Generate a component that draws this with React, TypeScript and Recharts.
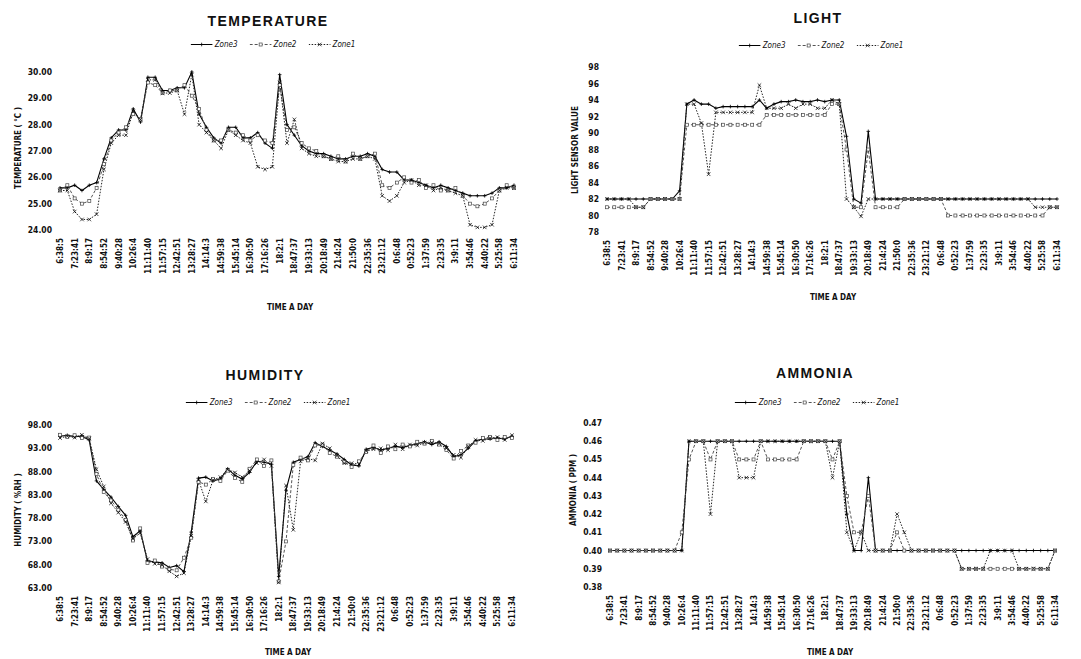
import React from 'react';
import { LineChart, Line, XAxis, YAxis } from 'recharts';

// sample times (every other one is shown on the axis)
const times = [
  '6:38:5', '7:0:53', '7:23:41', '7:46:29', '8:9:17', '8:32:5', '8:54:52', '9:17:40', '9:40:28', '10:3:16',
  '10:26:4', '10:48:52', '11:11:40', '11:34:28', '11:57:15', '12:20:3', '12:42:51', '13:5:39', '13:28:27', '13:51:15',
  '14:14:3', '14:36:51', '14:59:38', '15:22:26', '15:45:14', '16:8:2', '16:30:50', '16:53:38', '17:16:26', '17:39:14',
  '18:2:1', '18:24:49', '18:47:37', '19:10:25', '19:33:13', '19:56:1', '20:18:49', '20:41:37', '21:4:24', '21:27:12',
  '21:50:0', '22:12:48', '22:35:36', '22:58:24', '23:21:12', '23:44:0', '0:6:48', '0:29:36', '0:52:23', '1:15:11',
  '1:37:59', '2:0:47', '2:23:35', '2:46:23', '3:9:11', '3:31:59', '3:54:46', '4:17:34', '4:40:22', '5:3:10',
  '5:25:58', '5:48:46', '6:11:34',
];

const tempZone3 = [
  25.6, 25.6, 25.7, 25.5, 25.7, 25.8, 26.7, 27.5, 27.8, 27.8,
  28.6, 28.1, 29.8, 29.8, 29.3, 29.3, 29.4, 29.4, 30.0, 28.4,
  27.9, 27.5, 27.3, 27.9, 27.9, 27.5, 27.5, 27.7, 27.3, 27.1,
  29.9, 28.0, 27.6, 27.2, 27.0, 26.9, 26.9, 26.8, 26.7, 26.7,
  26.8, 26.8, 26.9, 26.8, 26.3, 26.2, 26.2, 25.9, 25.9, 25.8,
  25.7, 25.6, 25.7, 25.6, 25.5, 25.4, 25.3, 25.3, 25.3, 25.4,
  25.6, 25.6, 25.7,
];
const tempZone2 = [
  25.5, 25.7, 25.2, 25.0, 25.1, 25.6, 26.5, 27.4, 27.7, 27.9,
  28.4, 28.2, 29.6, 29.5, 29.2, 29.3, 29.3, 29.5, 29.1, 28.6,
  27.8, 27.4, 27.4, 27.8, 27.7, 27.6, 27.4, 27.6, 27.4, 27.3,
  29.5, 27.8, 27.9, 27.3, 27.1, 27.0, 26.8, 26.7, 26.8, 26.6,
  26.9, 26.7, 26.8, 26.9, 25.7, 25.6, 25.8, 26.0, 25.8, 25.9,
  25.6, 25.7, 25.5, 25.5, 25.6, 25.3, 25.0, 24.9, 25.0, 25.2,
  25.5, 25.7, 25.6,
];
const tempZone1 = [
  25.5, 25.5, 24.7, 24.4, 24.4, 24.6, 26.3, 27.3, 27.6, 27.6,
  28.5, 28.2, 29.7, 29.7, 29.2, 29.2, 29.3, 28.4, 29.9, 28.0,
  27.7, 27.4, 27.1, 27.8, 27.6, 27.4, 27.3, 26.4, 26.3, 26.4,
  29.6, 27.3, 28.2, 27.1, 26.9, 26.8, 26.8, 26.7, 26.6, 26.6,
  26.7, 26.7, 26.8, 26.7, 25.3, 25.1, 25.3, 25.8, 25.9, 25.7,
  25.7, 25.5, 25.6, 25.5, 25.4, 25.3, 24.2, 24.1, 24.1, 24.2,
  25.5, 25.6, 25.6,
];

const lightZone3 = [
  82, 82, 82, 82, 82, 82, 82, 82, 82, 82,
  83, 93.5, 94, 93.5, 93.5, 93, 93.2, 93.2, 93.2, 93.2,
  93.2, 94, 93, 93.5, 93.8, 93.8, 94, 93.8, 93.8, 94,
  93.8, 94, 94, 89.6, 82, 81.5, 90.2, 82, 82, 82,
  82, 82, 82, 82, 82, 82, 82, 82, 82, 82,
  82, 82, 82, 82, 82, 82, 82, 82, 82, 82,
  82, 82, 82,
];
const lightZone2 = [
  81, 81, 81, 81, 81, 81, 82, 82, 82, 82,
  82, 91, 91, 91, 91, 91, 91, 91, 91, 91,
  91, 91, 92.2, 92.2, 92.2, 92.2, 92.2, 92.2, 92.2, 92.2,
  92.2, 93.5, 93.5, 88, 81, 81, 88, 81, 81, 81,
  81, 82, 82, 82, 82, 82, 82, 80, 80, 80,
  80, 80, 80, 80, 80, 80, 80, 80, 80, 80,
  80, 81, 81,
];
const lightZone1 = [
  82, 82, 82, 82, 81, 81, 82, 82, 82, 82,
  82, 93.5, 93.5, 91.2, 85, 92.5, 92.5, 92.5, 92.5, 92.5,
  92.5, 95.8, 93, 93, 93, 93.5, 93, 93.5, 93.5, 93,
  93, 94, 93.5, 82, 81, 79.9, 82, 82, 82, 82,
  82, 82, 82, 82, 82, 82, 82, 82, 82, 82,
  82, 82, 82, 82, 82, 82, 82, 82, 82, 81,
  81, 81, 81,
];

const humZone3 = [
  95.6, 95.8, 95.5, 95.6, 94.8, 86, 84.2, 82.5, 80.5, 78.6,
  74, 75.3, 68.8, 68.6, 68.4, 67.4, 67.8, 66.5, 75, 86.6,
  86.8, 86, 86.4, 88.6, 87.2, 86.4, 87.8, 90.2, 90, 89.6,
  65.5, 84, 90, 90.6, 91.2, 94.2, 93.4, 92.6, 91.8, 90.6,
  89.4, 89.2, 92.8, 93.2, 92.6, 93, 93.4, 93.2, 93.6, 94,
  94.4, 93.8, 94.4, 93.4, 91.2, 91.6, 93, 94.6, 95, 95,
  95.2, 95, 95.6,
];
const humZone2 = [
  95.9, 95.4, 95.8, 95.2, 95.3, 87.5, 83.6, 81.8, 79.8, 77.6,
  73.2, 75.8, 68.4, 68.9, 67.6, 67, 66.8, 69.5, 73.8, 85.8,
  85.2, 86.4, 86, 88.2, 86.6, 85.8, 88.6, 90.6, 89.2, 90.4,
  64.4, 73, 89.4, 91, 90.4, 93.6, 93.8, 92, 91.2, 90,
  89, 90.2, 92.2, 93.6, 92, 93.4, 92.8, 93.8, 93.4, 94.4,
  94, 94.6, 93.8, 92.6, 90.8, 92.4, 93.6, 94.2, 95.2, 95.4,
  94.8, 95.4, 95.2,
];
const humZone1 = [
  95.2, 95.6, 95.3, 95.9, 95.1, 88.5, 84.8, 81.2, 79.2, 77.2,
  73.6, 74.8, 69.2, 68.2, 67.9, 66.6, 65.5, 66.2, 74.2, 86.2,
  81.6, 86.2, 86.8, 88.4, 87.8, 86.8, 88.2, 89.8, 90.6, 89.2,
  64.2, 85, 75.5, 90.2, 90.8, 90.4, 94, 93, 91.4, 89.8,
  89.8, 89.6, 92.4, 92.8, 93, 92.6, 93.8, 92.8, 93.8, 93.6,
  94.2, 94.2, 94, 93, 91.6, 91, 93.4, 94.8, 94.6, 95.2,
  95.4, 94.8, 95.8,
];

const nh3Zone3 = [
  0.40, 0.40, 0.40, 0.40, 0.40, 0.40, 0.40, 0.40, 0.40, 0.40,
  0.40, 0.46, 0.46, 0.46, 0.46, 0.46, 0.46, 0.46, 0.46, 0.46,
  0.46, 0.46, 0.46, 0.46, 0.46, 0.46, 0.46, 0.46, 0.46, 0.46,
  0.46, 0.46, 0.46, 0.42, 0.40, 0.40, 0.44, 0.40, 0.40, 0.40,
  0.40, 0.40, 0.40, 0.40, 0.40, 0.40, 0.40, 0.40, 0.40, 0.40,
  0.40, 0.40, 0.40, 0.40, 0.40, 0.40, 0.40, 0.40, 0.40, 0.40,
  0.40, 0.40, 0.40,
];
const nh3Zone2 = [
  0.40, 0.40, 0.40, 0.40, 0.40, 0.40, 0.40, 0.40, 0.40, 0.40,
  0.41, 0.45, 0.46, 0.46, 0.45, 0.46, 0.46, 0.46, 0.45, 0.45,
  0.45, 0.46, 0.45, 0.45, 0.45, 0.45, 0.45, 0.46, 0.46, 0.46,
  0.46, 0.45, 0.46, 0.43, 0.41, 0.41, 0.43, 0.40, 0.40, 0.40,
  0.41, 0.40, 0.40, 0.40, 0.40, 0.40, 0.40, 0.40, 0.40, 0.39,
  0.39, 0.39, 0.39, 0.39, 0.39, 0.39, 0.39, 0.39, 0.39, 0.39,
  0.39, 0.39, 0.40,
];
const nh3Zone1 = [
  0.40, 0.40, 0.40, 0.40, 0.40, 0.40, 0.40, 0.40, 0.40, 0.40,
  0.40, 0.46, 0.46, 0.46, 0.42, 0.46, 0.46, 0.46, 0.44, 0.44,
  0.44, 0.46, 0.46, 0.46, 0.46, 0.46, 0.46, 0.46, 0.46, 0.46,
  0.46, 0.44, 0.46, 0.41, 0.40, 0.41, 0.40, 0.40, 0.40, 0.40,
  0.42, 0.41, 0.40, 0.40, 0.40, 0.40, 0.40, 0.40, 0.40, 0.39,
  0.39, 0.39, 0.39, 0.40, 0.40, 0.40, 0.40, 0.39, 0.39, 0.39,
  0.39, 0.39, 0.40,
];

const tempTicks = [24, 25, 26, 27, 28, 29, 30];
const lightTicks = [78, 80, 82, 84, 86, 88, 90, 92, 94, 96, 98];
const humTicks = [63, 68, 73, 78, 83, 88, 93, 98];
const nh3Ticks = [0.38, 0.39, 0.4, 0.41, 0.42, 0.43, 0.44, 0.45, 0.46, 0.47];

const NARROW = '"Liberation Sans Narrow", "DejaVu Sans Condensed", "Liberation Sans", sans-serif';
const WIDE = '"Liberation Sans", Arial, sans-serif';

type Shape = 'plus' | 'square' | 'cross';

const zones: { key: string; name: string; stroke: string; dash?: string; width: number; shape: Shape }[] = [
  { key: 'z3', name: 'Zone3', stroke: '#000', width: 1.1, shape: 'plus' },
  { key: 'z2', name: 'Zone2', stroke: '#555', dash: '3 2', width: 1, shape: 'square' },
  { key: 'z1', name: 'Zone1', stroke: '#222', dash: '1.5 1.5', width: 1, shape: 'cross' },
];

function Marker({ cx, cy, shape }: { cx?: number; cy?: number; shape: Shape }) {
  if (cx == null || cy == null || isNaN(cx) || isNaN(cy)) return null;
  const s = 1.8;
  if (shape === 'plus')
    return <path d={`M${cx - s},${cy}H${cx + s}M${cx},${cy - s}V${cy + s}`} stroke="#000" strokeWidth={0.8} fill="none" />;
  if (shape === 'square')
    return <rect x={cx - 1.5} y={cy - 1.5} width={3} height={3} stroke="#444" strokeWidth={0.7} fill="#fff" />;
  return <path d={`M${cx - s},${cy - s}L${cx + s},${cy + s}M${cx - s},${cy + s}L${cx + s},${cy - s}`} stroke="#000" strokeWidth={0.7} fill="none" />;
}

function LegendBox({ x, y }: { x: number; y: number }) {
  return (
    <div
      style={{
        position: 'absolute',
        left: x,
        top: y,
        transform: 'translate(-50%, -50%)',
        display: 'flex',
        gap: 12,
        whiteSpace: 'nowrap',
        fontFamily: NARROW,
        fontSize: 8,
        fontStyle: 'italic',
        color: '#111',
      }}
    >
      {zones.map((z) => (
        <span key={z.key} style={{ display: 'flex', alignItems: 'center', gap: 2 }}>
          <svg width={22} height={8}>
            <line x1={0} y1={4} x2={22} y2={4} stroke={z.stroke} strokeWidth={z.width} strokeDasharray={z.dash} />
            <Marker cx={11} cy={4} shape={z.shape} />
          </svg>
          {z.name}
        </span>
      ))}
    </div>
  );
}

interface PanelProps {
  left: number;
  top: number;
  title: string;
  titleX: number;
  titleY: number;
  legendX: number;
  legendY: number;
  yLabel: string;
  yLabelX: number;
  yLabelY: number;
  xLabelX: number;
  xLabelY: number;
  l: number;
  r: number;
  t: number;
  b: number;
  ticks: number[];
  fmt: (v: number) => string;
  z3: number[];
  z2: number[];
  z1: number[];
}

function Panel(p: PanelProps) {
  const rows = times.map((t, i) => ({ t, z3: p.z3[i], z2: p.z2[i], z1: p.z1[i] }));
  const W = 540;
  const H = 330;
  return (
    <div style={{ position: 'absolute', left: p.left, top: p.top, width: W, height: H }}>
      <LineChart width={W} height={H} data={rows} margin={{ top: p.t, right: W - p.r, left: 0, bottom: 0 }}>
        <XAxis
          dataKey="t"
          interval={1}
          height={H - p.b}
          axisLine={false}
          tickLine={false}
          tick={(tp: any) => (
            <text
              key={tp.index}
              transform={`translate(${tp.x + 3},${p.b + 8}) rotate(-90)`}
              textAnchor="end"
              fontSize={8}
              fontWeight="bold"
              fontFamily={NARROW}
              fill="#111"
            >
              {tp.payload.value}
            </text>
          )}
        />
        <YAxis
          width={p.l}
          domain={[p.ticks[0], p.ticks[p.ticks.length - 1]]}
          ticks={p.ticks}
          interval={0}
          axisLine={false}
          tickLine={false}
          tick={(tp: any) => (
            <text
              key={tp.index}
              x={p.l - 8}
              y={tp.y + 3}
              textAnchor="end"
              fontSize={8.5}
              fontWeight="bold"
              fontFamily={NARROW}
              fill="#111"
            >
              {p.fmt(tp.payload.value)}
            </text>
          )}
        />
        {zones.map((z) => (
          <Line
            key={z.key}
            dataKey={z.key}
            name={z.name}
            type="linear"
            stroke={z.stroke}
            strokeWidth={z.width}
            strokeDasharray={z.dash}
            dot={(dp: any) => <Marker key={dp.index} cx={dp.cx} cy={dp.cy} shape={z.shape} />}
            activeDot={false}
            isAnimationActive={false}
          />
        ))}
      </LineChart>
      <div
        style={{
          position: 'absolute',
          left: p.titleX,
          top: p.titleY,
          transform: 'translate(-50%, -50%)',
          fontFamily: WIDE,
          fontWeight: 'bold',
          fontSize: 14,
          letterSpacing: 1.4,
          whiteSpace: 'nowrap',
          color: '#111',
        }}
      >
        {p.title}
      </div>
      <LegendBox x={p.legendX} y={p.legendY} />
      <div
        style={{
          position: 'absolute',
          left: p.yLabelX,
          top: p.yLabelY,
          transform: 'translate(-50%, -50%) rotate(-90deg)',
          fontFamily: NARROW,
          fontWeight: 'bold',
          fontSize: 8,
          whiteSpace: 'nowrap',
          color: '#111',
        }}
      >
        {p.yLabel}
      </div>
      <div
        style={{
          position: 'absolute',
          left: p.xLabelX,
          top: p.xLabelY,
          transform: 'translate(-50%, -50%)',
          fontFamily: NARROW,
          fontWeight: 'bold',
          fontSize: 8,
          whiteSpace: 'nowrap',
          color: '#111',
        }}
      >
        TIME A DAY
      </div>
    </div>
  );
}

export default function App() {
  return (
    <div style={{ position: 'absolute', left: 0, top: 0, width: 1081, height: 659, background: '#fff', overflow: 'hidden' }}>
      <Panel
        left={0} top={0}
        title="TEMPERATURE" titleX={268} titleY={21}
        legendX={273} legendY={44}
        yLabel="TEMPERATURE ( °C )" yLabelX={18} yLabelY={148}
        xLabelX={290} xLabelY={307}
        l={60} r={514} t={72} b={230}
        ticks={tempTicks} fmt={(v) => v.toFixed(2)}
        z3={tempZone3} z2={tempZone2} z1={tempZone1}
      />
      <Panel
        left={540} top={0}
        title="LIGHT" titleX={278} titleY={18}
        legendX={281} legendY={45}
        yLabel="LIGHT SENSOR VALUE" yLabelX={35} yLabelY={150}
        xLabelX={293} xLabelY={297}
        l={67} r={517} t={67} b={232}
        ticks={lightTicks} fmt={(v) => String(v)}
        z3={lightZone3} z2={lightZone2} z1={lightZone1}
      />
      <Panel
        left={0} top={330}
        title="HUMIDITY" titleX={265} titleY={45}
        legendX={268} legendY={72}
        yLabel="HUMIDITY ( %RH )" yLabelX={18} yLabelY={180}
        xLabelX={288} xLabelY={322}
        l={60} r={512} t={95} b={258}
        ticks={humTicks} fmt={(v) => v.toFixed(2)}
        z3={humZone3} z2={humZone2} z1={humZone1}
      />
      <Panel
        left={540} top={330}
        title="AMMONIA" titleX={275} titleY={43}
        legendX={277} legendY={72}
        yLabel="AMMONIA ( PPM )" yLabelX={33} yLabelY={160}
        xLabelX={290} xLabelY={322}
        l={70} r={515} t={93} b={257}
        ticks={nh3Ticks} fmt={(v) => v.toFixed(2)}
        z3={nh3Zone3} z2={nh3Zone2} z1={nh3Zone1}
      />
    </div>
  );
}
